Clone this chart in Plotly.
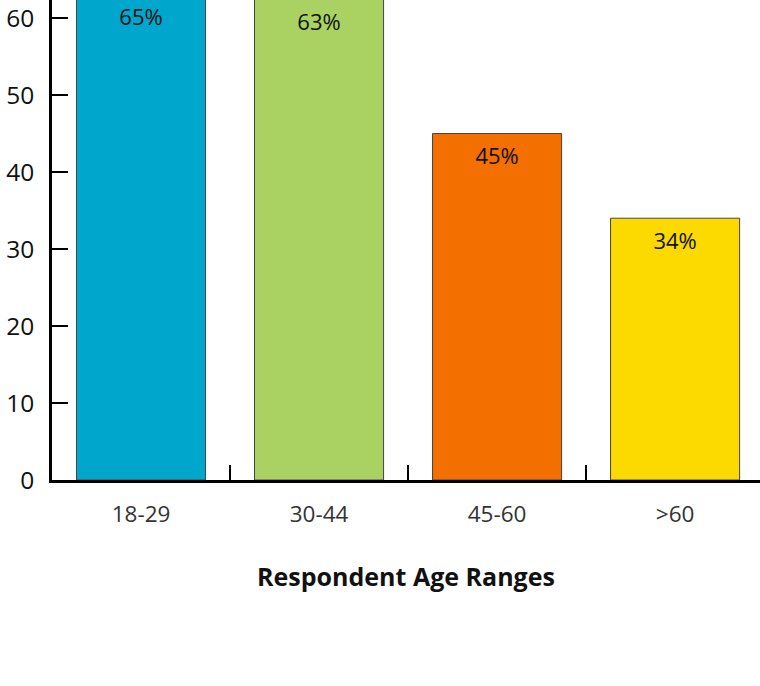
import plotly.graph_objects as go

# Share of respondents by age range
age_ranges = ["18-29", "30-44", "45-60", ">60"]
shares = [65, 63, 45, 34]
bar_colors = ["#00A6CB", "#AAD263", "#F26F00", "#FCDA00"]
y_ticks = [0, 10, 20, 30, 40, 50, 60]

FONT = "Open Sans"

fig = go.Figure()

fig.add_trace(go.Bar(
    x=age_ranges,
    y=shares,
    width=0.725,
    marker=dict(color=bar_colors, line=dict(color="#444444", width=1)),
    hoverinfo="skip",
))

# Value labels under each bar top; the invisible marker size sets how far
# below the top each label sits (the tallest bars run past the plot top)
fig.add_trace(go.Scatter(
    x=age_ranges,
    y=shares,
    mode="markers+text",
    text=[f"{v}%" for v in shares],
    textposition="bottom center",
    textfont=dict(family=FONT, size=22, color="#111111"),
    marker=dict(size=[44, 28, 21, 21], color="rgba(0,0,0,0)",
                line=dict(width=0)),
    cliponaxis=True,
    hoverinfo="skip",
))

fig.update_layout(
    width=760,
    height=686,
    margin=dict(l=52, r=0, t=0, b=206),
    paper_bgcolor="white",
    plot_bgcolor="white",
    showlegend=False,
    bargap=0.275,
    font=dict(family=FONT),
)

fig.update_xaxes(
    range=[-0.5, 3.477],
    showline=True,
    linecolor="#000000",
    linewidth=2.5,
    ticks="inside",
    tickson="boundaries",
    ticklen=15,
    tickwidth=2,
    tickcolor="#000000",
    tickfont=dict(family=FONT, size=22.5, color="#333333"),
    ticklabelstandoff=12,
    showgrid=False,
    zeroline=False,
    title=dict(
        text="<b>Respondent Age Ranges</b>",
        font=dict(family=FONT, size=25, color="#111111"),
        standoff=41,
    ),
)

fig.update_yaxes(
    range=[0, 62.34],
    tickmode="array",
    tickvals=y_ticks,
    ticktext=[str(t) for t in y_ticks],
    showline=True,
    linecolor="#000000",
    linewidth=2.5,
    ticks="inside",
    ticklen=16,
    tickwidth=2,
    tickcolor="#000000",
    tickfont=dict(family=FONT, size=24.5, color="#111111"),
    ticklabelstandoff=10,
    showgrid=False,
    zeroline=False,
)

fig.write_html("out.html")
